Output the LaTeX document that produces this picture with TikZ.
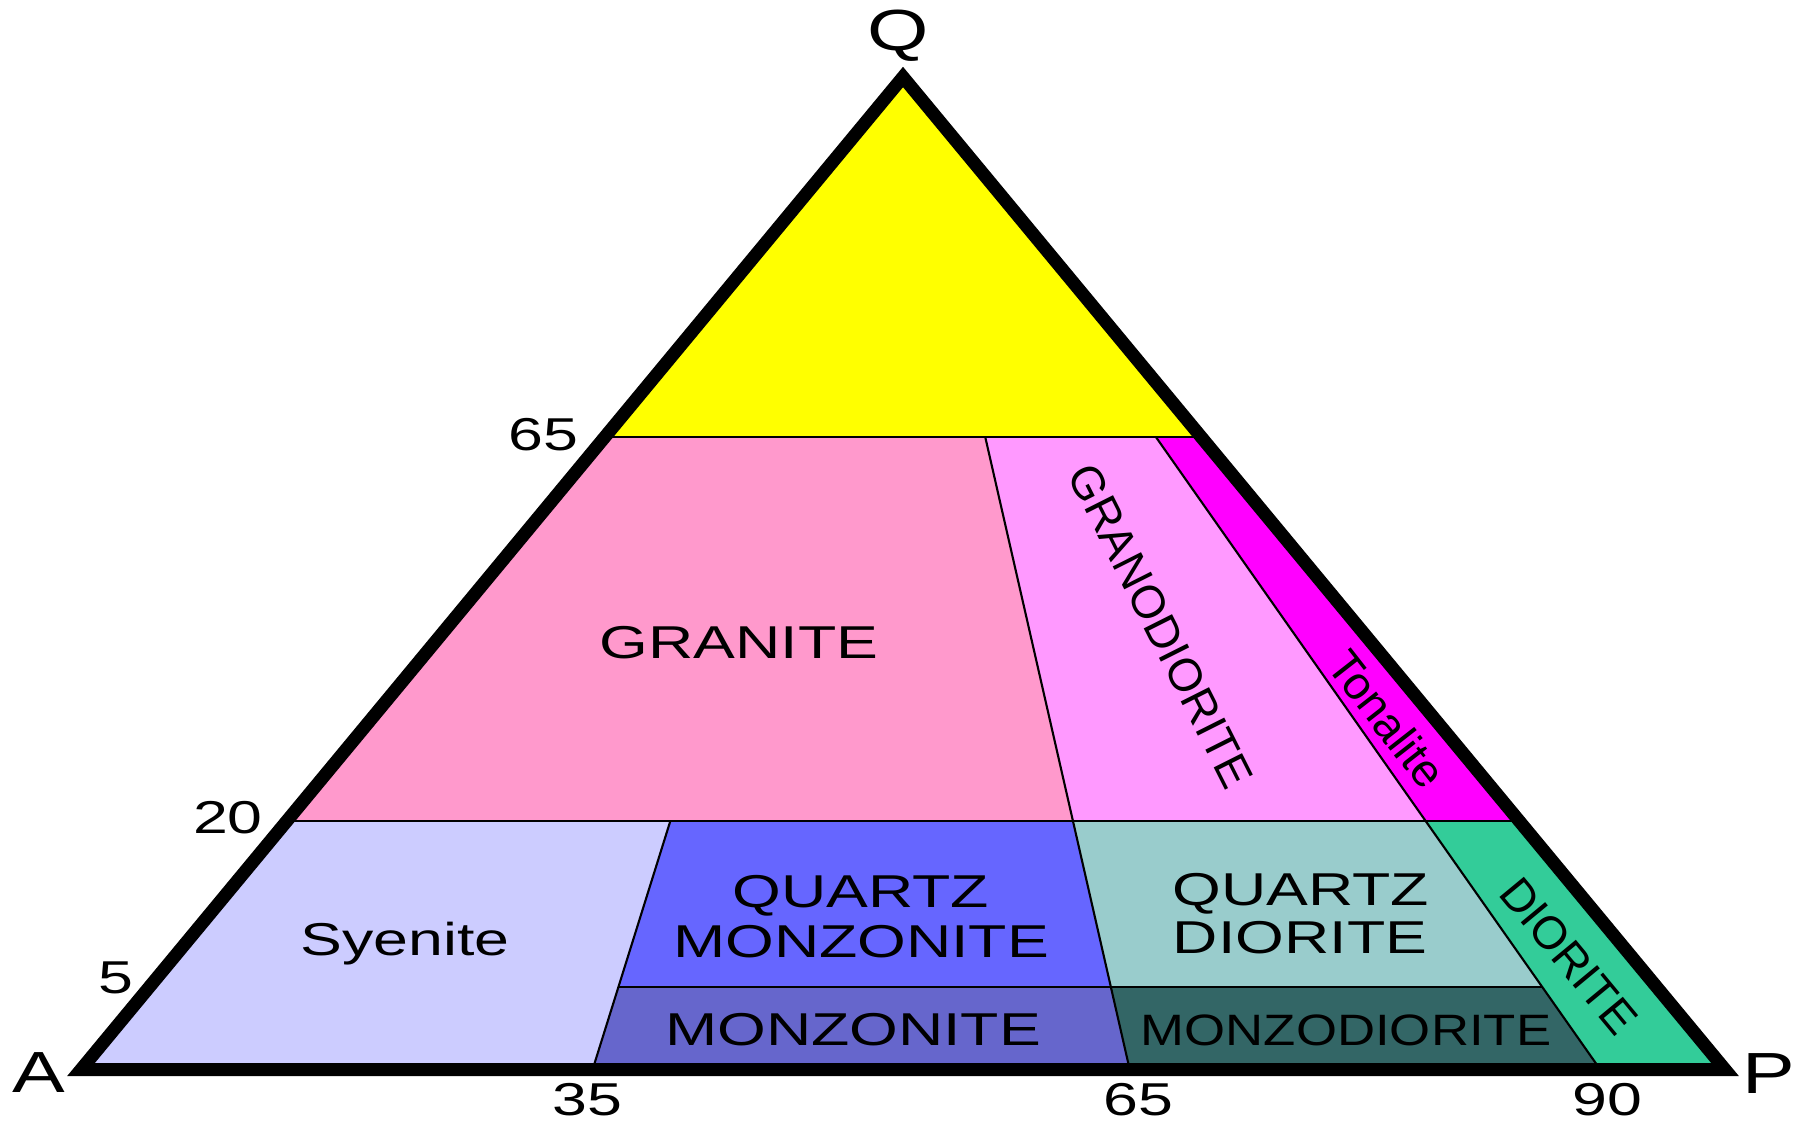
\documentclass[tikz,border=0pt]{standalone}
\usepackage{fontspec}
\setmainfont{Liberation Sans}
\newfontfamily\rockfont[FakeStretch=1.36]{Liberation Sans}
\newfontfamily\slimfont[FakeStretch=1.2]{Liberation Sans}
\usepackage{tikz}
\usetikzlibrary{calc}
\definecolor{qYellow}{RGB}{255, 255, 0}
\definecolor{granitePink}{RGB}{255, 153, 204}
\definecolor{granodioritePink}{RGB}{255, 153, 255}
\definecolor{tonaliteMagenta}{RGB}{255, 0, 255}
\definecolor{syeniteLilac}{RGB}{204, 204, 255}
\definecolor{qMonzoniteBlue}{RGB}{102, 102, 255}
\definecolor{monzoniteBlue}{RGB}{102, 102, 204}
\definecolor{qDioriteTeal}{RGB}{153, 204, 204}
\definecolor{monzodioriteTeal}{RGB}{51, 102, 102}
\definecolor{dioriteGreen}{RGB}{51, 204, 153}

\begin{document}
\begin{tikzpicture}[x=0.01cm, y=-0.01cm,
    zone/.style={draw=black, line width=0.6pt},
    rockname/.style={font=\rockfont\fontsize{13.1}{15}\selectfont, anchor=base, inner sep=0pt},
    tilted/.style={font=\fontsize{13.1}{15}\selectfont, inner sep=0pt},
    ticklabel/.style={font=\rockfont\fontsize{13.1}{15}\selectfont, anchor=base, inner sep=0pt},
    corner/.style={font=\rockfont\fontsize{16.5}{19}\selectfont, anchor=base, inner sep=0pt}]
    \useasboundingbox (0,0) rectangle (1795,1121);
    % Corners of the QAP triangle
    \coordinate (A) at (81,1069.5);
    \coordinate (P) at (1725,1069.5);
    \coordinate (Q) at (903,77);
    % Feet of the lines at 35, 65 and 90 on A--P
    \coordinate (b35) at (592.6,1069.5);
    \coordinate (b65) at (1129.7,1069.5);
    \coordinate (b90) at (1600.2,1069.5);
    % Levels Q = 5, 20, 65
    \def\qlo{0.083}
    \def\qmid{0.250}
    \def\qhi{0.637}
    \coordinate (A20) at ($(A)!\qmid!(Q)$);
    \coordinate (A65) at ($(A)!\qhi!(Q)$);
    \coordinate (P20) at ($(P)!\qmid!(Q)$);
    \coordinate (P65) at ($(P)!\qhi!(Q)$);
    \coordinate (m35) at ($(b35)!\qlo!(Q)$);
    \coordinate (n35) at ($(b35)!\qmid!(Q)$);
    \coordinate (m65) at ($(b65)!\qlo!(Q)$);
    \coordinate (n65) at ($(b65)!\qmid!(Q)$);
    \coordinate (h65) at ($(b65)!\qhi!(Q)$);
    \coordinate (m90) at ($(b90)!\qlo!(Q)$);
    \coordinate (n90) at ($(b90)!\qmid!(Q)$);
    \coordinate (h90) at ($(b90)!\qhi!(Q)$);
    % Fields
    \fill[qYellow] (A65) -- (Q) -- (P65) -- cycle;
    \fill[granitePink] (A20) -- (n65) -- (h65) -- (A65) -- cycle;
    \fill[granodioritePink] (n65) -- (n90) -- (h90) -- (h65) -- cycle;
    \fill[tonaliteMagenta] (n90) -- (P20) -- (P65) -- (h90) -- cycle;
    \fill[syeniteLilac] (A) -- (b35) -- (n35) -- (A20) -- cycle;
    \fill[qMonzoniteBlue] (m35) -- (m65) -- (n65) -- (n35) -- cycle;
    \fill[monzoniteBlue] (b35) -- (b65) -- (m65) -- (m35) -- cycle;
    \fill[qDioriteTeal] (m65) -- (m90) -- (n90) -- (n65) -- cycle;
    \fill[monzodioriteTeal] (b65) -- (b90) -- (m90) -- (m65) -- cycle;
    \fill[dioriteGreen] (b90) -- (P) -- (P20) -- (n90) -- cycle;
    % Field boundaries
    \draw[zone] (A65) -- (P65);
    \draw[zone] (A20) -- (P20);
    \draw[zone] (m35) -- (m90);
    \draw[zone] (b35) -- (n35);
    \draw[zone] (b65) -- (h65);
    \draw[zone] (b90) -- (h90);
    % Outline
    \draw[line width=3.7pt] (A) -- (P) -- (Q) -- cycle;
    % Corner labels
    \node[corner] (labA) at (38.5,1092) {A};
    \node[corner] (labP) at (1769,1093) {P};
    \node[corner] (labQ) at (898,51) {Q};
    % Scale values
    \node[ticklabel] (t35) at (587,1115) {35};
    \node[ticklabel] (t65b) at (1138,1115) {65};
    \node[ticklabel] (t90) at (1607,1115) {90};
    \node[ticklabel] (t65) at (543,450) {65};
    \node[ticklabel] (t20) at (228,833) {20};
    \node[ticklabel] (t5) at (116,993) {5};
    % Rock names
    \node[rockname] (granite) at (739,658) {GRANITE};
    \node[rockname] (syenite) at (405,955) {Syenite};
    \node[rockname] (qmonzA) at (861,907) {QUARTZ};
    \node[rockname] (qmonzB) at (861,957) {MONZONITE};
    \node[rockname] (monzonite) at (853,1045) {MONZONITE};
    \node[rockname] (qdiorA) at (1301,905) {QUARTZ};
    \node[rockname] (qdiorB) at (1300,953) {DIORITE};
    \node[rockname, font=\slimfont\fontsize{12.5}{15}\selectfont] (monzodiorite) at (1346,1045) {MONZODIORITE};
    \node[tilted, rotate=-63.3] (granodiorite) at (1161,626) {GRANODIORITE};
    \node[tilted, rotate=-52] (tonalite) at (1387,719) {Tonalite};
    \node[tilted, rotate=-50.4] (diorite) at (1569,956) {DIORITE};
\end{tikzpicture}
\end{document}
